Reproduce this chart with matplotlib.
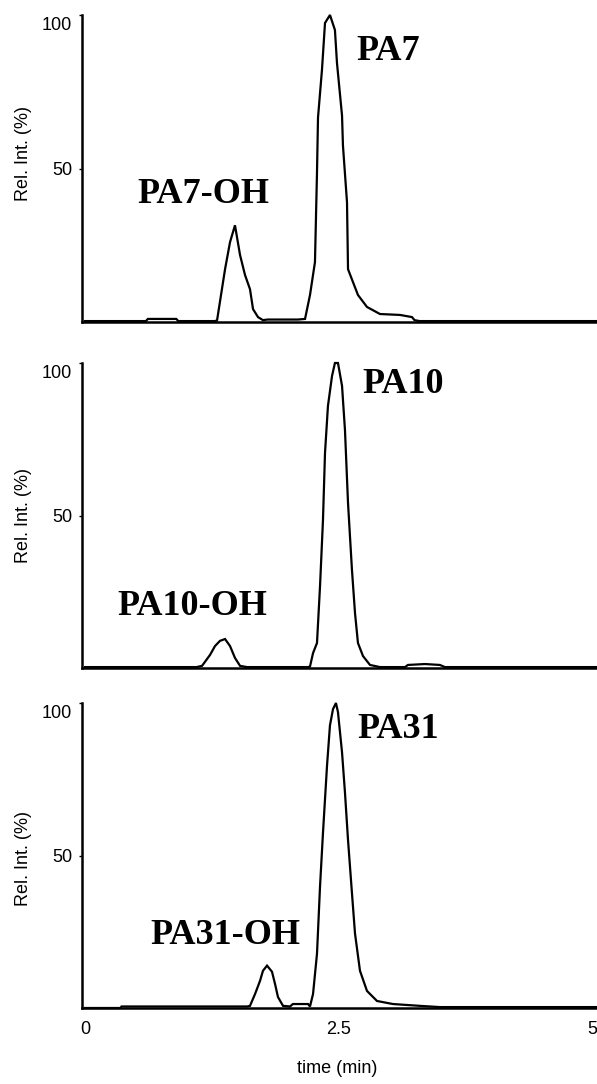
import matplotlib
matplotlib.use("Agg")
import matplotlib.pyplot as plt
import matplotlib.transforms as mtransforms

# ---------------- data ----------------
# Panel 1: PA7
t_pa7 = [0.00, 0.60, 0.62, 0.90, 0.92, 1.28, 1.302, 1.381, 1.430, 1.479, 1.529, 1.578,
         1.627, 1.657, 1.706, 1.755, 1.80, 2.10, 2.170, 2.219, 2.268, 2.288, 2.298, 2.337,
         2.367, 2.416, 2.465, 2.485, 2.535, 2.544, 2.584, 2.594, 2.643, 2.692, 2.781,
         2.909, 3.107, 3.225, 3.25, 3.30, 5.05]
i_pa7 = [0.3, 0.3, 1.0, 1.0, 0.3, 0.3, 0.5, 17.2, 26.0, 31.5, 21.8, 15.3,
         10.7, 4.2, 1.6, 0.6, 0.8, 0.8, 1.0, 8.8, 19.5, 48.7, 66.6, 82.1,
         97.4, 100.0, 95.1, 84.4, 67.2, 57.5, 39.0, 17.2, 13.0, 8.8, 4.9,
         2.6, 2.3, 1.6, 0.6, 0.3, 0.3]

# Panel 2: PA10
t_pa10 = [0.00, 1.10, 1.154, 1.233, 1.282, 1.331, 1.381, 1.430, 1.479, 1.529, 1.598,
          2.20, 2.219, 2.249, 2.288, 2.318, 2.347, 2.367, 2.396, 2.436, 2.465, 2.495,
          2.535, 2.564, 2.594, 2.633, 2.663, 2.692, 2.742, 2.811, 2.909, 3.156, 3.185,
          3.353, 3.50, 3.55, 5.05]
i_pa10 = [0.3, 0.3, 0.7, 4.3, 7.2, 8.9, 9.5, 7.2, 3.3, 0.7, 0.3,
          0.3, 0.5, 4.9, 8.2, 26.9, 48.5, 70.5, 85.9, 95.7, 100.0, 100.0,
          92.5, 78.0, 54.1, 32.1, 18.0, 8.2, 3.9, 1.0, 0.3, 0.3, 1.0,
          1.3, 1.0, 0.3, 0.3]

# Panel 3: PA31
t_pa31 = [0.00, 0.35, 0.36, 1.60, 1.627, 1.677, 1.726, 1.755, 1.795, 1.844, 1.874,
          1.903, 1.953, 2.022, 2.05, 2.20, 2.219, 2.249, 2.288, 2.318, 2.347, 2.387,
          2.416, 2.446, 2.475, 2.495, 2.535, 2.564, 2.594, 2.633, 2.663, 2.712, 2.781,
          2.880, 3.037, 3.304, 3.50, 3.55, 5.05]
i_pa31 = [0.0, 0.0, 0.5, 0.5, 0.7, 4.6, 8.9, 12.2, 13.9, 11.9, 7.9,
          3.6, 0.7, 0.5, 1.3, 1.3, 0.5, 4.6, 17.8, 39.9, 57.4, 79.5,
          92.7, 98.0, 100.0, 97.0, 83.8, 70.6, 55.1, 37.6, 24.4, 12.2, 5.6,
          2.3, 1.3, 0.7, 0.3, 0.3, 0.3]

traces = [(t_pa7, i_pa7), (t_pa10, i_pa10), (t_pa31, i_pa31)]

# peak labels: (text, time, intensity)
labels_pa7 = [("PA7", 2.68, 88.0), ("PA7-OH", 0.52, 41.6)]
labels_pa10 = [("PA10", 2.74, 92.8), ("PA10-OH", 0.32, 20.3)]
labels_pa31 = [("PA31", 2.69, 91.4), ("PA31-OH", 0.64, 23.8)]
peak_labels = [labels_pa7, labels_pa10, labels_pa31]

y_ticks = [50, 100]
y_ticklabels = ["50", "100"]
x_ticks = [0, 2.5, 5]
x_ticklabels = ["0", "2.5", "5"]

# ---------------- figure ----------------
W, H = 597, 1084
fig = plt.figure(figsize=(W / 100, H / 100), dpi=100)
fig.patch.set_facecolor("white")

sans = ["Liberation Sans", "DejaVu Sans"]
serif = ["Liberation Serif", "DejaVu Serif"]

# pixel boxes (top, bottom) of each panel
boxes = [(15, 322), (363, 668), (703, 1008)]
left_px = 82
ylabel_y = [0.55, 0.5, 0.49]

axes = []
for k, ((top, bot), (t, inten)) in enumerate(zip(boxes, traces)):
    ax = fig.add_axes([left_px / W, (H - bot) / H, (W - left_px) / W, (bot - top) / H])
    axes.append(ax)
    ax.plot(t, inten, color="black", lw=1.6, clip_on=False, solid_joinstyle="miter")
    ax.set_xlim(-0.03, 5.05)
    ax.set_ylim(0, 99)
    for side in ["top", "right"]:
        ax.spines[side].set_visible(False)
    for side in ["left", "bottom"]:
        ax.spines[side].set_linewidth(1.8)
        ax.spines[side].set_color("black")
    ax.set_yticks(y_ticks)
    ax.set_yticklabels(y_ticklabels, fontsize=13, family=sans)
    ax.tick_params(axis="y", length=2, width=1, pad=5, direction="out")
    if k < 2:
        ax.set_xticks([])
    else:
        ax.set_xticks(x_ticks)
        ax.set_xticklabels(x_ticklabels, fontsize=13, family=sans)
        ax.tick_params(axis="x", length=0, pad=9)
        ax.set_xlabel("time (min)", fontsize=13, family=sans)
        ax.xaxis.set_label_coords((337 - left_px) / (W - left_px), -0.17)
    ax.set_ylabel("Rel. Int. (%)", fontsize=13, family=sans)
    ax.yaxis.set_label_coords(-0.097, ylabel_y[k])
    # the "100" label sits a little below the top in the reference
    lab = ax.get_yticklabels()[1]
    lab.set_transform(lab.get_transform() + mtransforms.ScaledTranslation(0, -0.09, fig.dpi_scale_trans))
    for txt, tx, ty in peak_labels[k]:
        ax.text(tx, ty, txt, fontsize=26, family=serif, fontweight="bold",
                ha="left", va="center", clip_on=False)

fig.savefig("out.png", dpi=100, facecolor="white")
